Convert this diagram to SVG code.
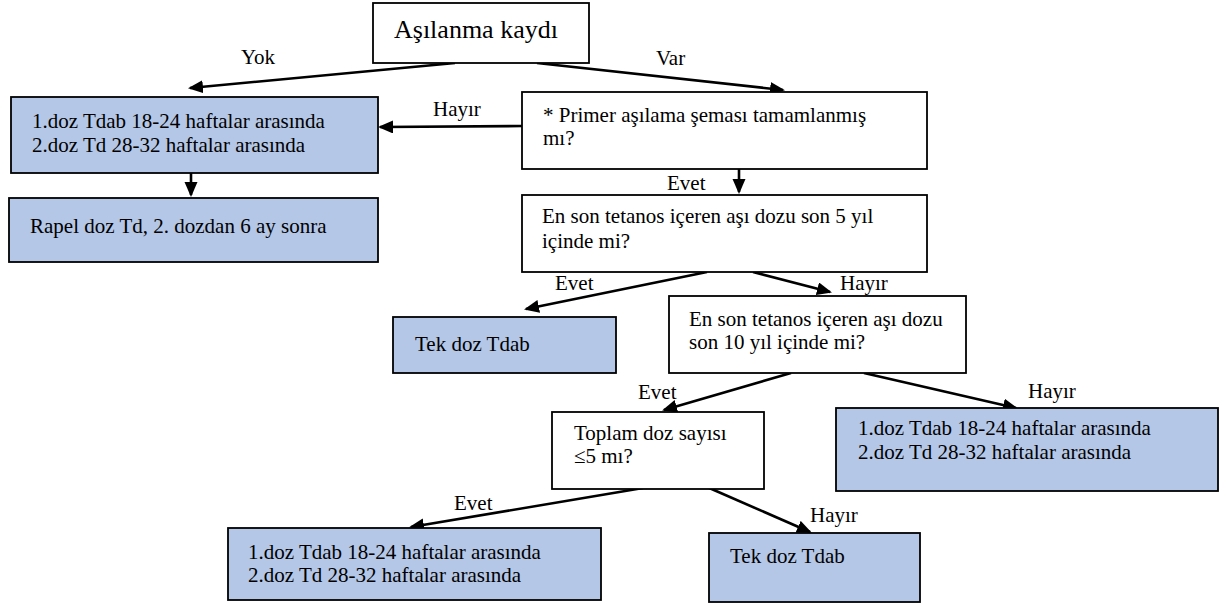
<svg xmlns="http://www.w3.org/2000/svg" width="1223" height="606" viewBox="0 0 1223 606">
<defs>
<style>
.box{stroke:#000;stroke-width:1.8}
.w{fill:#fff}
.b{fill:#b4c7e7}
text{font-family:"Liberation Serif","Times New Roman",serif;font-size:21px;fill:#000}
.title{font-size:26px}
.conn line{stroke:#000;stroke-width:2.6;marker-end:url(#ah)}
</style>
<marker id="ah" markerUnits="userSpaceOnUse" markerWidth="16" markerHeight="14" refX="13" refY="6.5" orient="auto">
<path d="M0,0 L15,6.5 L0,13 z" fill="#000"/>
</marker>
</defs>
<rect width="1223" height="606" fill="#fff"/>
<g id="connectors" class="conn">
<line x1="455" y1="63" x2="190" y2="88"/>
<line x1="537" y1="63" x2="783" y2="90"/>
<line x1="522" y1="126" x2="380" y2="127"/>
<line x1="191" y1="164" x2="191" y2="195"/>
<line x1="739" y1="169" x2="739" y2="192"/>
<line x1="707" y1="272" x2="526" y2="309"/>
<line x1="753" y1="272" x2="830" y2="292"/>
<line x1="791" y1="373" x2="664" y2="410"/>
<line x1="864" y1="373" x2="1016" y2="408"/>
<line x1="643" y1="488" x2="411" y2="527"/>
<line x1="707" y1="487" x2="810" y2="532"/>
</g>
<g id="labels">
<text x="241" y="64">Yok</text>
<text x="656" y="65">Var</text>
<text x="433" y="116">Hayır</text>
<text x="667" y="190">Evet</text>
<text x="555" y="290">Evet</text>
<text x="840" y="290">Hayır</text>
<text x="638" y="399">Evet</text>
<text x="1028" y="398">Hayır</text>
<text x="454" y="510">Evet</text>
<text x="810" y="522">Hayır</text>
</g>
<g id="n-kayit"><rect class="box w" x="373" y="3" width="216" height="60"/><text class="title" x="394" y="38">Aşılanma kaydı</text></g>
<g id="n-doz1"><rect class="box b" x="11" y="97" width="367" height="76"/><text x="32" y="128">1.doz Tdab 18-24 haftalar arasında</text><text x="32" y="152">2.doz Td 28-32 haftalar arasında</text></g>
<g id="n-rapel"><rect class="box b" x="9" y="198" width="369" height="64"/><text x="30" y="233">Rapel doz Td, 2. dozdan 6 ay sonra</text></g>
<g id="n-primer"><rect class="box w" x="522" y="92" width="405" height="77"/><text x="543" y="122">* Primer aşılama şeması tamamlanmış</text><text x="543" y="145">mı?</text></g>
<g id="n-son5"><rect class="box w" x="522" y="195" width="405" height="77"/><text x="542" y="223">En son tetanos içeren aşı dozu son 5 yıl</text><text x="542" y="248">içinde mi?</text></g>
<g id="n-tek1"><rect class="box b" x="393" y="317" width="223" height="56"/><text x="415" y="351">Tek doz Tdab</text></g>
<g id="n-son10"><rect class="box w" x="669" y="296" width="297" height="77"/><text x="689" y="326">En son tetanos içeren aşı dozu</text><text x="689" y="349">son 10 yıl içinde mi?</text></g>
<g id="n-toplam"><rect class="box w" x="552" y="412" width="212" height="77"/><text x="574" y="440">Toplam doz sayısı</text><text x="574" y="463">≤5 mı?</text></g>
<g id="n-doz2"><rect class="box b" x="836" y="408" width="382" height="83"/><text x="858" y="435">1.doz Tdab 18-24 haftalar arasında</text><text x="858" y="459">2.doz Td 28-32 haftalar arasında</text></g>
<g id="n-doz3"><rect class="box b" x="228" y="528" width="373" height="72"/><text x="248" y="559">1.doz Tdab 18-24 haftalar arasında</text><text x="248" y="582">2.doz Td 28-32 haftalar arasında</text></g>
<g id="n-tek2"><rect class="box b" x="709" y="533" width="211" height="69"/><text x="730" y="563">Tek doz Tdab</text></g>
</svg>
